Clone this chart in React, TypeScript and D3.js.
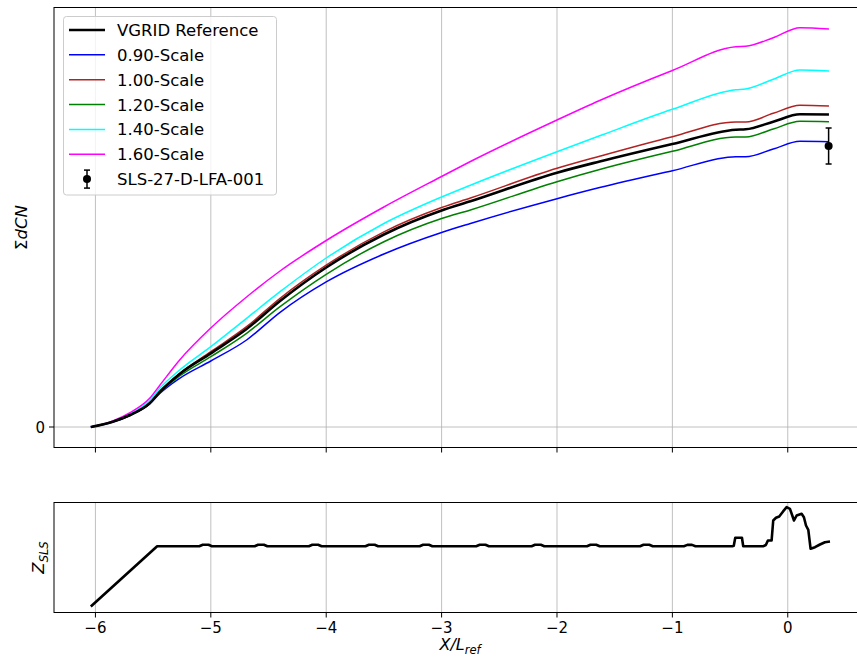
import React from "react";
import * as d3 from "d3";

// x positions (X/L_ref) of the read samples of the ΣdCN curves
const xs = [-6.04, -5.85, -5.7, -5.53, -5.44, -5.27, -5.0, -4.69, -4.4, -4.0, -3.5, -3.0, -2.75, -2.0, -1.63, -1.0, -0.45, -0.365, -0.126, 0.106, 0.357];

const refVals = [0, 0.053, 0.12, 0.237, 0.353, 0.53, 0.737, 0.98, 1.26, 1.595, 1.925, 2.165, 2.257, 2.543, 2.655, 2.83, 2.973, 2.977, 3.053, 3.127, 3.125];
const s090 = [0, 0.05, 0.115, 0.23, 0.337, 0.487, 0.66, 0.87, 1.147, 1.451, 1.73, 1.945, 2.035, 2.283, 2.394, 2.563, 2.703, 2.703, 2.78, 2.857, 2.853];
const s100 = [0, 0.053, 0.12, 0.24, 0.36, 0.535, 0.753, 1.003, 1.287, 1.618, 1.952, 2.195, 2.29, 2.587, 2.708, 2.903, 3.05, 3.05, 3.137, 3.217, 3.21];
const s120 = [0, 0.053, 0.115, 0.235, 0.345, 0.51, 0.703, 0.937, 1.203, 1.527, 1.853, 2.085, 2.17, 2.453, 2.575, 2.757, 2.9, 2.9, 2.98, 3.057, 3.053];
const s140 = [0, 0.053, 0.13, 0.265, 0.39, 0.57, 0.803, 1.087, 1.353, 1.69, 2.035, 2.3, 2.418, 2.753, 2.912, 3.177, 3.373, 3.38, 3.477, 3.57, 3.56];
const s160 = [0, 0.06, 0.143, 0.287, 0.42, 0.67, 0.99, 1.3, 1.56, 1.865, 2.2, 2.505, 2.655, 3.07, 3.265, 3.565, 3.803, 3.807, 3.893, 3.993, 3.98];

const seriesNames = ["VGRID Reference", "0.90-Scale", "1.00-Scale", "1.20-Scale", "1.40-Scale", "1.60-Scale"];
const seriesColors = ["#000000", "#0000ff", "#b22222", "#008000", "#00ffff", "#ff00ff"];
const seriesValues = [refVals, s090, s100, s120, s140, s160];

// experimental point
const expName = "SLS-27-D-LFA-001";
const expX = [0.354];
const expY = [2.81];
const expErr = [0.18];

// Z_SLS profile
const zX = [-6.04, -5.465,
  -5.1, -5.07, -5.02, -4.99,
  -4.62, -4.59, -4.54, -4.51,
  -4.15, -4.12, -4.07, -4.04,
  -3.66, -3.63, -3.58, -3.55,
  -3.19, -3.16, -3.11, -3.08,
  -2.7, -2.67, -2.62, -2.59,
  -2.22, -2.19, -2.14, -2.11,
  -1.74, -1.71, -1.66, -1.63,
  -1.28, -1.25, -1.2, -1.17,
  -0.9, -0.87, -0.83, -0.8,
  -0.48, -0.468, -0.455, -0.397, -0.386,
  -0.21, -0.19, -0.172, -0.14, -0.126, -0.102, -0.074, -0.039, -0.01, 0.019, 0.042, 0.054, 0.077, 0.12, 0.14, 0.158, 0.178, 0.198, 0.236, 0.279, 0.322, 0.366];
const zY = [0.06, 0.663,
  0.663, 0.678, 0.678, 0.663,
  0.663, 0.678, 0.678, 0.663,
  0.663, 0.678, 0.678, 0.663,
  0.663, 0.678, 0.678, 0.663,
  0.663, 0.678, 0.678, 0.663,
  0.663, 0.678, 0.678, 0.663,
  0.663, 0.678, 0.678, 0.663,
  0.663, 0.678, 0.678, 0.663,
  0.663, 0.678, 0.678, 0.663,
  0.663, 0.676, 0.676, 0.663,
  0.663, 0.667, 0.747, 0.747, 0.663,
  0.663, 0.675, 0.72, 0.72, 0.92, 0.947, 0.96, 1.013, 1.053, 1.037, 0.96, 0.92, 0.97, 0.987, 0.953, 0.87, 0.827, 0.637, 0.653, 0.68, 0.703, 0.71];

const xTicks = [-6, -5, -4, -3, -2, -1, 0];
const yTicks = [0];

const W = 857, H = 663;
const L = 54, R = 866;
const T1 = 7.5, B1 = 447.5;
const T2 = 502.5, B2 = 612.5;
const FONT = "DejaVu Sans, sans-serif";

export default function App() {
  const x = d3.scaleLinear().domain([-6.359, 0.678]).range([L, R]);
  const y1 = d3.scaleLinear().domain([-0.205, 4.195]).range([B1, T1]);
  const y2 = d3.scaleLinear().domain([0, 1.1]).range([B2, T2]);

  const line1 = d3.line<number>().x((_, i) => x(xs[i])).y((d) => y1(d)).curve(d3.curveMonotoneX);
  const line2 = d3.line<number>().x((_, i) => x(zX[i])).y((d) => y2(d));

  const fmt = (v: number) => (v < 0 ? "\u2212" + Math.abs(v) : String(v));
  const drawOrder = [1, 2, 3, 4, 5, 0];
  const legX = 63.5, legY = 16.5, legW = 213, legH = 178.5;
  const rowY = (i: number) => 30 + i * 24.85;

  return (
    <svg width={W} height={H} style={{ display: "block", position: "absolute", left: 0, top: 0, background: "#fff" }} fontFamily={FONT}>
      <defs>
        <clipPath id="c1"><rect x={L} y={T1} width={R - L} height={B1 - T1} /></clipPath>
        <clipPath id="c2"><rect x={L} y={T2} width={R - L} height={B2 - T2} /></clipPath>
      </defs>
      <rect x={0} y={0} width={W} height={H} fill="#fff" />

      {/* ---------- top panel ---------- */}
      <g>
        {xTicks.map((t) => (
          <line key={"g1" + t} x1={x(t)} x2={x(t)} y1={T1} y2={B1} stroke="#b0b0b0" strokeWidth={0.8} />
        ))}
        {yTicks.map((t) => (
          <line key={"gy" + t} x1={L} x2={R} y1={y1(t)} y2={y1(t)} stroke="#b0b0b0" strokeWidth={0.8} />
        ))}
        <g clipPath="url(#c1)">
          {drawOrder.map((k) => (
            <path key={"s" + k} d={line1(seriesValues[k]) || ""} fill="none" stroke={seriesColors[k]}
              strokeWidth={k === 0 ? 2.6 : 1.5} strokeLinejoin="round" />
          ))}
          {expX.map((ex, i) => (
            <g key={"e" + i}>
              <line x1={x(ex)} x2={x(ex)} y1={y1(expY[i] - expErr[i])} y2={y1(expY[i] + expErr[i])} stroke="#000" strokeWidth={1.5} />
              <line x1={x(ex) - 3} x2={x(ex) + 3} y1={y1(expY[i] - expErr[i])} y2={y1(expY[i] - expErr[i])} stroke="#000" strokeWidth={1.5} />
              <line x1={x(ex) - 3} x2={x(ex) + 3} y1={y1(expY[i] + expErr[i])} y2={y1(expY[i] + expErr[i])} stroke="#000" strokeWidth={1.5} />
              <circle cx={x(ex)} cy={y1(expY[i])} r={4} fill="#000" />
            </g>
          ))}
        </g>
        <rect x={L} y={T1} width={R - L} height={B1 - T1} fill="none" stroke="#000" strokeWidth={1} />
        {xTicks.map((t) => (
          <line key={"t1" + t} x1={x(t)} x2={x(t)} y1={B1} y2={B1 + 5} stroke="#000" strokeWidth={1} />
        ))}
        {yTicks.map((t) => (
          <g key={"yt" + t}>
            <line x1={L - 5} x2={L} y1={y1(t)} y2={y1(t)} stroke="#000" strokeWidth={1} />
            <text x={L - 9} y={y1(t) + 5.5} textAnchor="end" fontSize={15}>{fmt(t)}</text>
          </g>
        ))}
        <text transform={`translate(27,${(T1 + B1) / 2}) rotate(-90)`} textAnchor="middle" fontSize={16.5}>
          <tspan>Σ</tspan><tspan fontStyle="italic">dCN</tspan>
        </text>

        {/* legend */}
        <rect x={legX} y={legY} width={legW} height={legH} rx={3} ry={3} fill="#fff" fillOpacity={0.8} stroke="#cccccc" strokeWidth={1} />
        {seriesNames.map((n, i) => (
          <g key={"l" + i}>
            <line x1={69} x2={105} y1={rowY(i)} y2={rowY(i)} stroke={seriesColors[i]} strokeWidth={i === 0 ? 2.6 : 1.5} />
            <text x={117} y={rowY(i) + 6} fontSize={16.5}>{n}</text>
          </g>
        ))}
        <g>
          <line x1={87} x2={87} y1={rowY(6) - 9} y2={rowY(6) + 9} stroke="#000" strokeWidth={1.5} />
          <line x1={84} x2={90} y1={rowY(6) - 9} y2={rowY(6) - 9} stroke="#000" strokeWidth={1.5} />
          <line x1={84} x2={90} y1={rowY(6) + 9} y2={rowY(6) + 9} stroke="#000" strokeWidth={1.5} />
          <circle cx={87} cy={rowY(6)} r={4} fill="#000" />
          <text x={117} y={rowY(6) + 6} fontSize={16.5}>{expName}</text>
        </g>
      </g>

      {/* ---------- bottom panel ---------- */}
      <g>
        {xTicks.map((t) => (
          <line key={"g2" + t} x1={x(t)} x2={x(t)} y1={T2} y2={B2} stroke="#b0b0b0" strokeWidth={0.8} />
        ))}
        <g clipPath="url(#c2)">
          <path d={line2(zY) || ""} fill="none" stroke="#000" strokeWidth={2.6} strokeLinejoin="round" />
        </g>
        <rect x={L} y={T2} width={R - L} height={B2 - T2} fill="none" stroke="#000" strokeWidth={1} />
        {xTicks.map((t) => (
          <g key={"t2" + t}>
            <line x1={x(t)} x2={x(t)} y1={B2} y2={B2 + 5} stroke="#000" strokeWidth={1} />
            <text x={x(t)} y={633} textAnchor="middle" fontSize={15}>{fmt(t)}</text>
          </g>
        ))}
        <text transform={`translate(44,${(T2 + B2) / 2}) rotate(-90)`} textAnchor="middle" fontSize={16.5} fontStyle="italic">
          <tspan>Z</tspan><tspan fontSize={11.5} dy={4}>SLS</tspan>
        </text>
        <text x={(L + R) / 2} y={650} textAnchor="middle" fontSize={16} fontStyle="italic">
          <tspan>X/L</tspan><tspan fontSize={11.5} dy={4}>ref</tspan>
        </text>
      </g>
    </svg>
  );
}
